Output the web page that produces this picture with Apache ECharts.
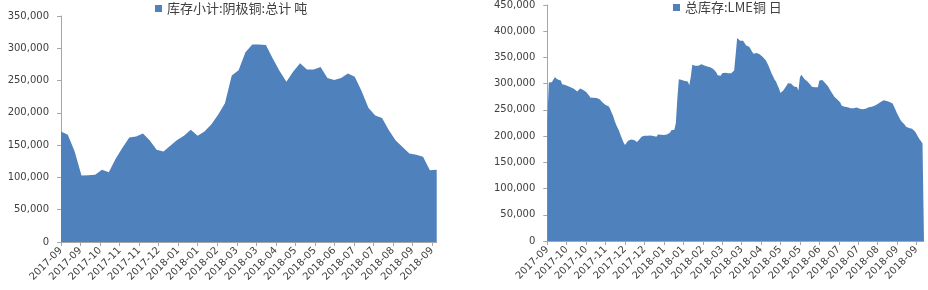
<!DOCTYPE html>
<html><head><meta charset="utf-8">
<script src="https://cdn.jsdelivr.net/npm/echarts@6/dist/echarts.min.js"></script>
<style>html,body{margin:0;padding:0;background:#fff}#c{width:928px;height:290px}</style>
</head><body><div id="c"></div>
<script>
// ---------- data ----------
const leftName = '库存小计:阴极铜:总计 吨';
const leftValues = [171000,166000,140000,103000,103500,104000,112000,108000,129000,146000,
  162000,163500,168000,157000,143000,140000,149000,158000,164500,174000,
  164500,171000,182000,197000,215000,258000,266000,294000,306000,306000,
  305000,284000,265000,248000,264000,277000,267000,267000,271000,254000,
  251000,254000,261000,256000,234000,208000,196000,192000,173000,157000,
  147000,137000,135000,132000,111000,112000];
const leftTickLabels = ['2017-09','2017-09','2017-10','2017-11','2017-11','2017-12','2018-01','2018-01','2018-02','2018-03',
  '2018-03','2018-04','2018-05','2018-05','2018-06','2018-07','2018-07','2018-08','2018-09','2018-09'];

const rightName = '总库存:LME铜 日';
const rightValues = [228000,302000,303000,302500,303000,312000,310000,308000,308500,306000,
  299000,298000,297500,297000,295000,293000,292500,291500,290000,287000,
  285000,286500,291000,289000,288000,287000,284000,281000,277000,273000,
  273500,273000,273000,272500,271000,270500,270000,264000,260500,259500,
  259000,257000,252000,245000,239000,230000,222000,216000,210000,202000,
  195000,188000,183000,181500,191000,193000,193500,193000,192500,190000,
  189000,192000,195000,199000,200500,200500,201000,200500,200500,201000,
  200500,200000,200500,199000,203000,203500,202500,202000,202000,202500,
  203000,204000,206500,211000,212000,212000,225000,272000,308500,308000,
  307000,306000,305000,304500,304000,297000,313000,336000,335000,334000,
  334500,334000,336000,337000,336000,334500,333500,332500,332000,331500,
  331000,328000,325000,322000,316000,313000,315000,320000,320500,321000,
  320500,320000,320500,320000,317000,325000,355000,387000,383500,382000,
  382500,382000,380000,373000,371500,370500,366000,361000,357000,355000,
  358500,358000,356000,353000,351500,348000,345000,340000,334000,327000,
  320000,314000,308000,304000,297000,291000,282000,285000,287500,290000,
  296000,301000,302000,300500,297000,294500,293000,293500,287000,312000,
  317000,315000,309000,306000,304000,301000,298000,294000,293000,293000,
  293500,293000,306000,308500,307000,305000,301000,297500,294000,289000,
  284000,280000,275000,272000,270000,267000,264000,258000,256500,256000,
  255500,255000,253500,253000,252500,253000,254000,254500,253000,252000,
  251500,251000,250000,252000,255000,255000,255500,256000,256500,258000,
  259500,261000,262500,265000,267000,268500,268000,267000,266000,265000,
  263000,262000,259000,250000,243000,238000,232000,228000,224500,222000,
  218000,216000,215500,215000,214000,212000,209000,204000,199000,194000,
  190000,186000,184000];
const rightTickLabels = ['2017-09','2017-10','2017-10','2017-11','2017-12','2017-12','2018-01','2018-01','2018-02','2018-03',
  '2018-03','2018-04','2018-05','2018-05','2018-06','2018-07','2018-07','2018-08','2018-09','2018-09'];

// ---------- style / layout ----------
const FONT = 'DejaVu Sans';
const CJK = 'Noto Sans CJK SC';
const TXT = '#404040';
const AXIS = '#a6a6a6';
const AREA = '#4f81bd';
const leftStep = 2.859;   // tick spacing in data-index units
const rightStep = 13;

function fmtThousands(v){ return String(Math.round(v)).replace(/\B(?=(\d{3})+(?!\d))/g, ','); }
function tickFormatter(labels, step){
  return function(v){
    const k = Math.round(v / step);
    if (Math.abs(v / step - k) > 0.05) return '';
    return labels[k] || '';
  };
}
function xAxisCfg(gridIndex, n, labels, step){
  const ticks = labels.map((_, k) => k * step);
  return {
    type: 'value', gridIndex, min: 0, max: n - 1,
    splitLine: {show: false},
    axisLine: {show: true, lineStyle: {color: AXIS}},
    axisTick: {show: true, length: 4, lineStyle: {color: AXIS}, customValues: ticks},
    axisLabel: {show: true, rotate: 45, margin: 7, fontFamily: FONT, fontSize: 10, color: TXT,
      customValues: ticks, formatter: tickFormatter(labels, step)}
  };
}
function yAxisCfg(gridIndex, max){
  return {
    type: 'value', gridIndex, min: 0, max, interval: 50000,
    splitLine: {show: false},
    axisLine: {show: true, lineStyle: {color: AXIS}},
    axisTick: {show: true, length: 4, lineStyle: {color: AXIS}},
    axisLabel: {margin: 12, fontFamily: FONT, fontSize: 10, color: TXT, formatter: fmtThousands}
  };
}
function seriesCfg(name, values, idx){
  return {
    name, type: 'line', xAxisIndex: idx, yAxisIndex: idx,
    data: values.map((v, i) => [i, v]),
    symbol: 'none', showSymbol: false,
    lineStyle: {width: 0, color: AREA},
    itemStyle: {color: AREA},
    areaStyle: {color: AREA, opacity: 1}
  };
}

const chart = echarts.init(document.getElementById('c'), null, {renderer: 'canvas'});
chart.setOption({
  animation: false,
  backgroundColor: '#ffffff',
  grid: [
    {left: 61, top: 16, width: 375.7, height: 226, outerBoundsMode: 'none', containLabel: false},
    {left: 547.3, top: 5, width: 376.7, height: 236, outerBoundsMode: 'none', containLabel: false}
  ],
  legend: [
    {data: [leftName], left: 155, top: 2, padding: 0, icon: 'rect', itemWidth: 7, itemHeight: 7, selectedMode: false,
      textStyle: {fontFamily: CJK, fontSize: 13, color: TXT}},
    {data: [rightName], left: 673, top: 1, padding: 0, icon: 'rect', itemWidth: 7, itemHeight: 7, selectedMode: false,
      textStyle: {fontFamily: CJK, fontSize: 13, color: TXT}}
  ],
  xAxis: [
    xAxisCfg(0, leftValues.length, leftTickLabels, leftStep),
    xAxisCfg(1, rightValues.length, rightTickLabels, rightStep)
  ],
  yAxis: [yAxisCfg(0, 350000), yAxisCfg(1, 450000)],
  series: [seriesCfg(leftName, leftValues, 0), seriesCfg(rightName, rightValues, 1)]
});
</script>
</body></html>
